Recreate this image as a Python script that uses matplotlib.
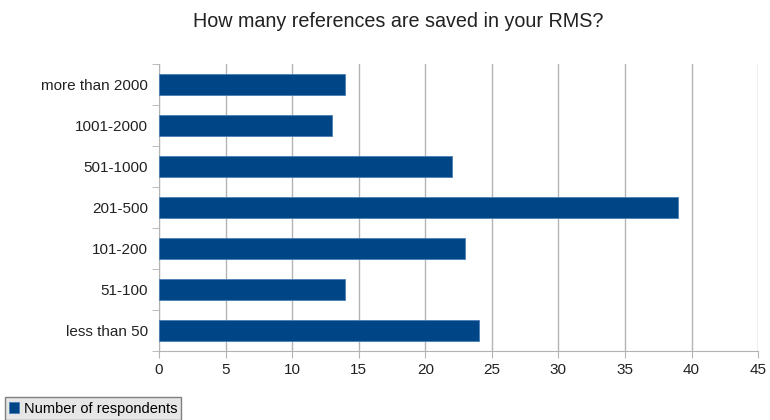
import numpy as np
import matplotlib.pyplot as plt

plt.rcParams['font.family'] = ['Liberation Sans', 'DejaVu Sans']

categories = ['less than 50', '51-100', '101-200', '201-500', '501-1000', '1001-2000', 'more than 2000']
respondents = [24, 14, 23, 39, 22, 13, 14]

fig = plt.figure(figsize=(7.7, 4.2), dpi=100)
ax = fig.add_axes([0.2065, 0.164, 0.778, 0.684])

y = np.arange(len(categories))
ax.barh(y, respondents, height=0.5, color='#004586', edgecolor='#4a7fb5', linewidth=0.6, zorder=3)

ax.set_xlim(0, 45)
ax.set_ylim(-0.5, len(categories) - 0.5)
ax.set_xticks(np.arange(0, 46, 5))
ax.set_yticks(y)
ax.set_yticklabels(categories)
ax.set_yticks(np.arange(-0.5, len(categories), 1), minor=True)
ax.tick_params(axis='y', which='major', length=0, pad=8, labelsize=11, labelcolor='#222222')
ax.tick_params(axis='y', which='minor', length=5, color='#b3b3b3')
ax.tick_params(axis='x', length=5, color='#b3b3b3', labelsize=11, labelcolor='#222222')

ax.grid(axis='x', color='#b3b3b3', linewidth=1, zorder=0)
for s in ['top', 'right']:
    ax.spines[s].set_visible(False)
for s in ['left', 'bottom']:
    ax.spines[s].set_color('#b3b3b3')

fig.suptitle('How many references are saved in your RMS?', x=0.517, y=0.972, fontsize=14.2, color='#222222')

leg = fig.legend(['Number of respondents'], loc='lower left', bbox_to_anchor=(0.006, 0.0),
                 handlelength=0.7, handleheight=0.7, handletextpad=0.3, fontsize=10.5,
                 fancybox=False, framealpha=1, borderpad=0.3, borderaxespad=0.0)
leg.get_frame().set_facecolor('#e6e6e6')
leg.get_frame().set_edgecolor('#808080')

fig.savefig('out.png', dpi=100)
